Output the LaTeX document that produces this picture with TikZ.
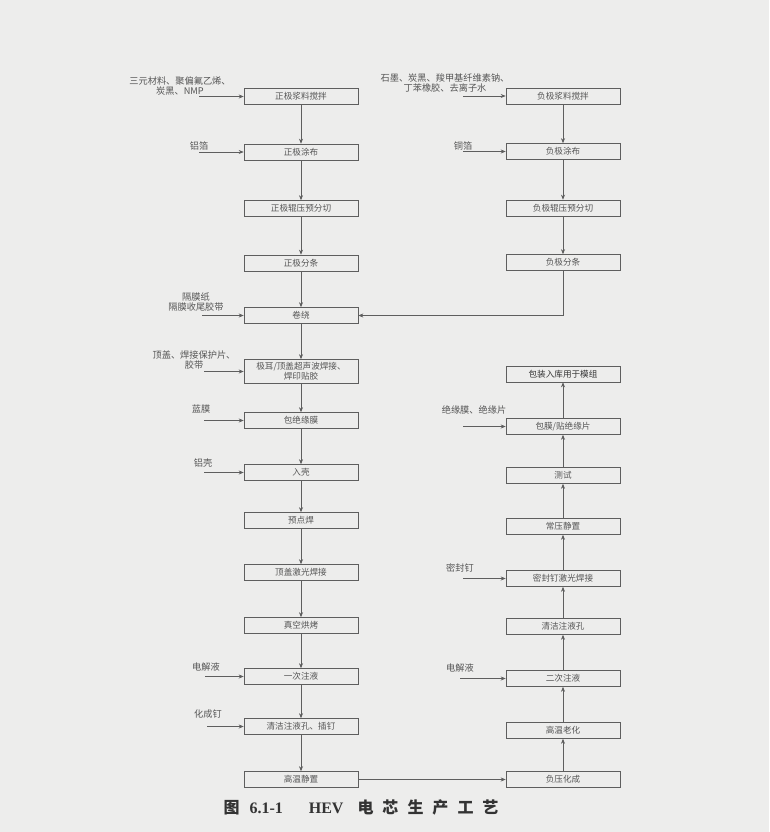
\documentclass[tikz,border=0pt]{standalone}
\usepackage{fontspec}
\setmainfont{Liberation Serif}
\newfontfamily\cjk{Noto Sans CJK SC}
\usetikzlibrary{arrows.meta}
\definecolor{bgc}{HTML}{EDEDEC}
\definecolor{linec}{HTML}{5E5E5E}
\definecolor{textc}{HTML}{555555}
\definecolor{capc}{HTML}{333333}
\tikzset{
  stepbox/.style={draw=linec, line width=0.6pt, minimum width=114pt, minimum height=16pt,
    inner sep=1pt, align=center, text=textc, font=\cjk\fontsize{8.6}{10}\selectfont},
  inlabel/.style={align=center, text=textc, inner sep=0pt, font=\cjk\fontsize{9.2}{10.5}\selectfont},
  flow/.style={draw=linec, line width=0.6pt, -{Stealth[length=5pt,width=4pt]}},
  plain/.style={draw=linec, line width=0.6pt}
}
\begin{document}
\begin{tikzpicture}[x=1pt,y=-1pt]
\fill[bgc] (0,0) rectangle (769,832);
\useasboundingbox (0,0) rectangle (769,832);

% left column
\node[stepbox] (p1) at (301,96.5) {正极浆料搅拌};
\node[stepbox] (p2) at (301,152) {正极涂布};
\node[stepbox] (p3) at (301,208.5) {正极辊压预分切};
\node[stepbox] (p4) at (301,263) {正极分条};
\node[stepbox] (w)  at (301,315.5) {卷绕};
\node[stepbox, minimum height=24pt] (j) at (301,371.5) {极耳/顶盖超声波焊接、\\焊印贴胶};
\node[stepbox] (m)  at (301,420.5) {包绝缘膜};
\node[stepbox] (k)  at (301,472.5) {入壳};
\node[stepbox] (y)  at (301,520.5) {预点焊};
\node[stepbox] (l)  at (301,572.5) {顶盖激光焊接};
\node[stepbox] (v)  at (301,625.5) {真空烘烤};
\node[stepbox] (i1) at (301,676.5) {一次注液};
\node[stepbox] (c1) at (301,726.5) {清洁注液孔、插钉};
\node[stepbox] (s)  at (301,779.5) {高温静置};

% right top column
\node[stepbox] (n1) at (563,96) {负极浆料搅拌};
\node[stepbox] (n2) at (563,151.5) {负极涂布};
\node[stepbox] (n3) at (563,208) {负极辊压预分切};
\node[stepbox] (n4) at (563,262.5) {负极分条};

% right bottom column
\node[stepbox, text=capc] (r1) at (563,374) {包装入库用于模组};
\node[stepbox] (r2) at (563,426.5) {包膜/贴绝缘片};
\node[stepbox] (r3) at (563,475.5) {测试};
\node[stepbox] (r4) at (563,526.5) {常压静置};
\node[stepbox] (r5) at (563,578.5) {密封钉激光焊接};
\node[stepbox] (r6) at (563,626.5) {清洁注液孔};
\node[stepbox] (r7) at (563,678.5) {二次注液};
\node[stepbox] (r8) at (563,730.5) {高温老化};
\node[stepbox] (r9) at (563,779.5) {负压化成};

% main flow arrows
\foreach \a/\b in {p1/p2,p2/p3,p3/p4,p4/w,w/j,j/m,m/k,k/y,y/l,l/v,v/i1,i1/c1,c1/s,
                   n1/n2,n2/n3,n3/n4,
                   r9/r8,r8/r7,r7/r6,r6/r5,r5/r4,r4/r3,r3/r2,r2/r1}
  \draw[flow] (\a) -- (\b);
\draw[flow] (n4.south) |- (w.east);
\draw[flow] (s.east) -- (r9.west);

% left inputs
\node[inlabel] (t1) at (180,86) {三元材料、聚偏氟乙烯、\\炭黑、NMP};
\coordinate (a1) at (199,96.5);
\draw[flow] (a1) -- (p1.west);
\node[inlabel] (t2) at (199,146) {铝箔};
\coordinate (a2) at (199,152);
\draw[flow] (a2) -- (p2.west);
\node[inlabel] (t3) at (196,302) {隔膜纸\\隔膜收尾胶带};
\coordinate (a3) at (202,315.5);
\draw[flow] (a3) -- (w.west);
\node[inlabel] (t4) at (194,360) {顶盖、焊接保护片、\\胶带};
\coordinate (a4) at (204,371.5);
\draw[flow] (a4) -- (j.west);
\node[inlabel] (t5) at (201,409) {蓝膜};
\coordinate (a5) at (204,420.5);
\draw[flow] (a5) -- (m.west);
\node[inlabel] (t6) at (203,463) {铝壳};
\coordinate (a6) at (204,472.5);
\draw[flow] (a6) -- (k.west);
\node[inlabel] (t7) at (206,667) {电解液};
\coordinate (a7) at (205,676.5);
\draw[flow] (a7) -- (i1.west);
\node[inlabel] (t8) at (208,714) {化成钉};
\coordinate (a8) at (207,726.5);
\draw[flow] (a8) -- (c1.west);

% right inputs
\node[inlabel] (u1) at (445,83) {石墨、炭黑、羧甲基纤维素钠、\\丁苯橡胶、去离子水};
\coordinate (b1) at (463,96);
\draw[flow] (b1) -- (n1.west);
\node[inlabel] (u2) at (463,146) {铜箔};
\coordinate (b2) at (463,151.5);
\draw[flow] (b2) -- (n2.west);
\node[inlabel] (u3) at (474,410) {绝缘膜、绝缘片};
\coordinate (b3) at (463,426.5);
\draw[flow] (b3) -- (r2.west);
\node[inlabel] (u4) at (460,568) {密封钉};
\coordinate (b4) at (463,578.5);
\draw[flow] (b4) -- (r5.west);
\node[inlabel] (u5) at (460,668) {电解液};
\coordinate (b5) at (460,678.5);
\draw[flow] (b5) -- (r7.west);

% caption
\node[text=capc, inner sep=0pt] (cap) at (361,807)
  {\cjk\bfseries\fontsize{16}{17}\selectfont 图\hspace{10pt}{\rmfamily\bfseries 6.1-1}\hspace{26pt}{\rmfamily\bfseries HEV}\hspace{14pt}电\hspace{9pt}芯\hspace{9pt}生\hspace{9pt}产\hspace{9pt}工\hspace{9pt}艺};
\end{tikzpicture}
\end{document}
